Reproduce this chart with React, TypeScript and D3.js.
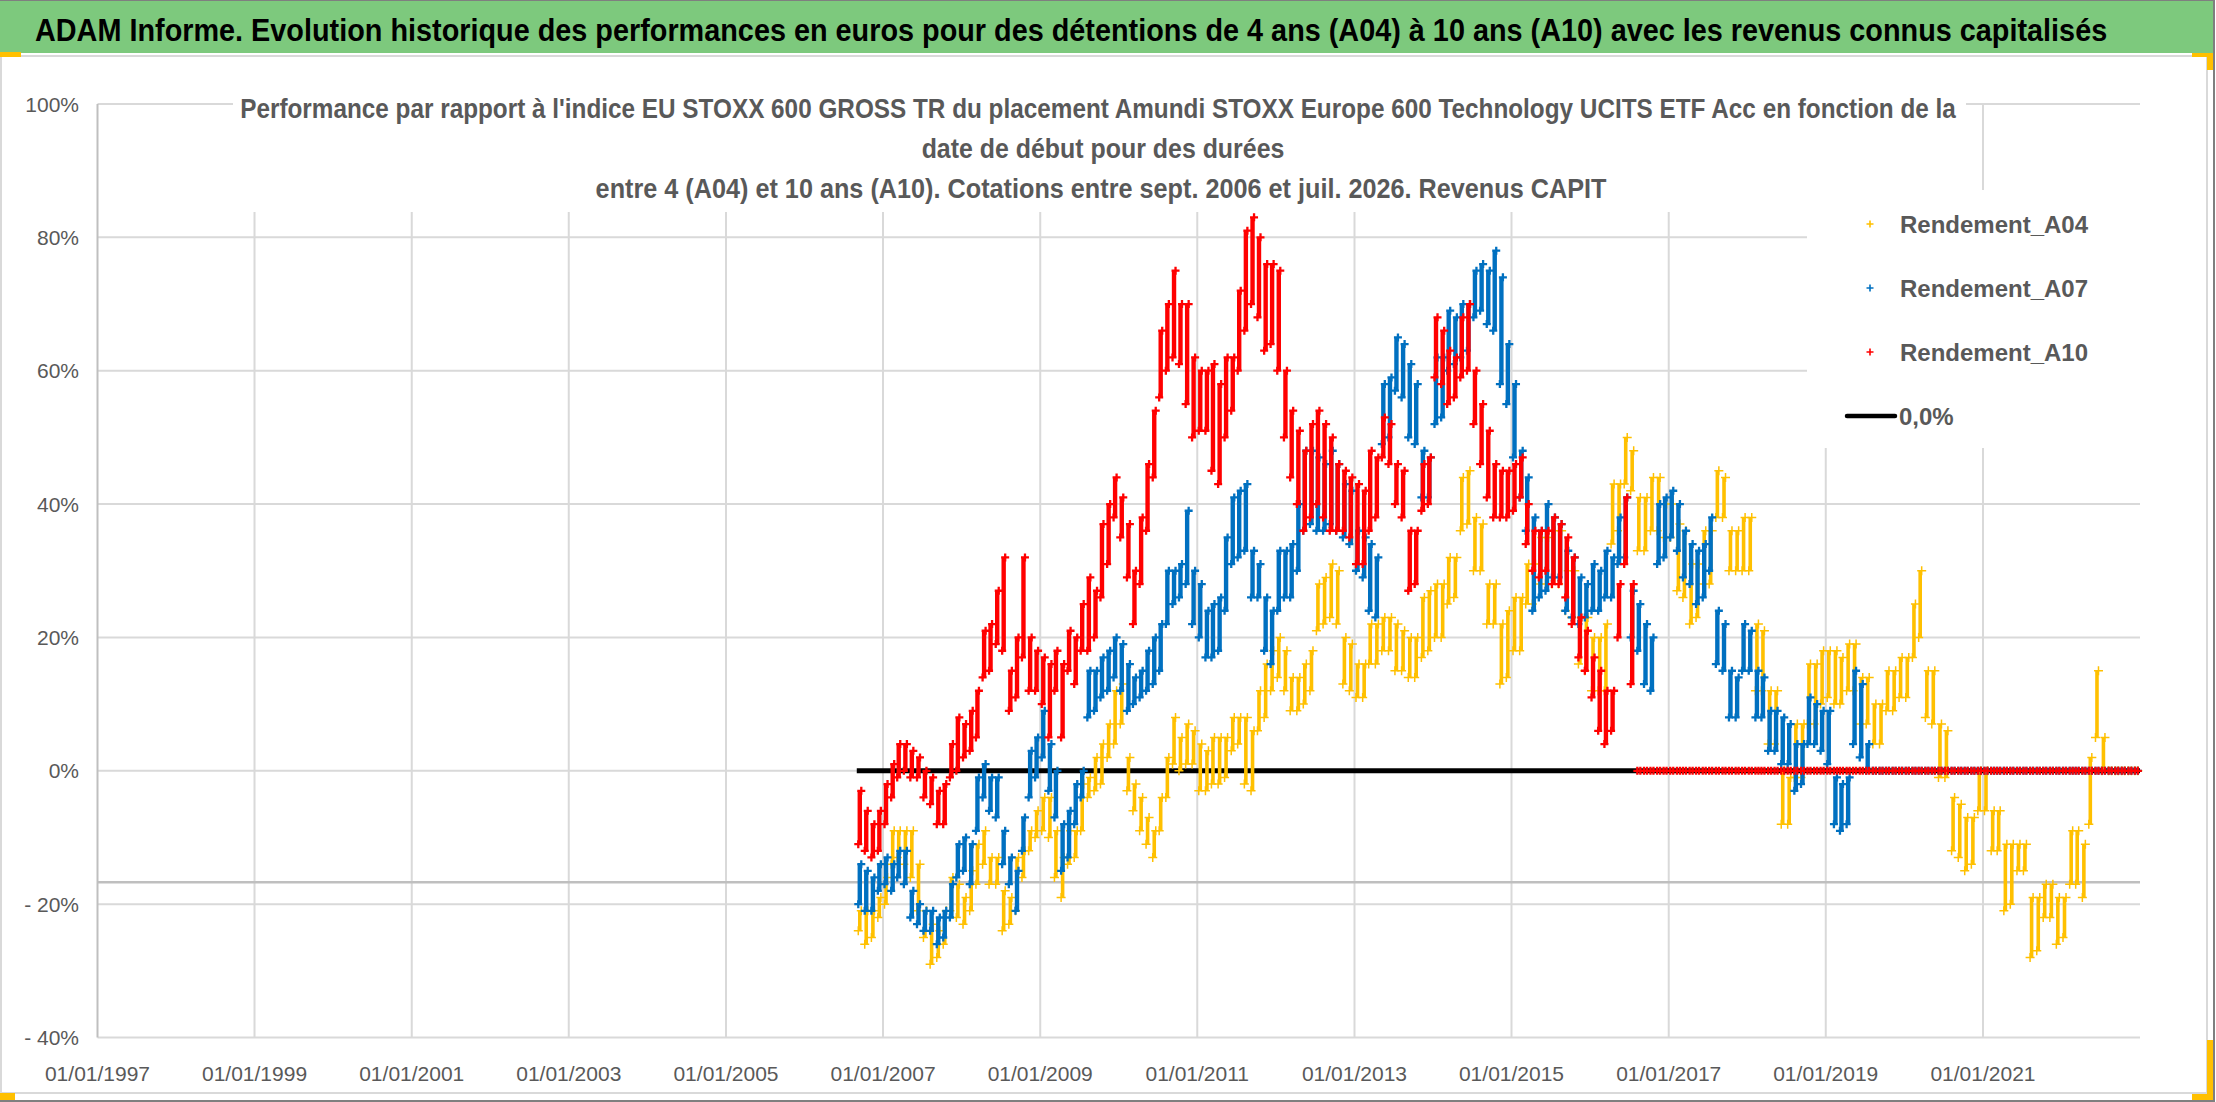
import React, { useLayoutEffect, useRef, useState } from "react";
import * as d3 from "d3";

const TITLE =
  "ADAM Informe. Evolution historique des performances en euros pour des détentions de 4 ans (A04) à 10 ans (A10) avec les revenus connus capitalisés";
const SUBTITLE_LINES = [
  "Performance par rapport à l'indice EU STOXX 600 GROSS TR  du placement Amundi STOXX Europe 600 Technology UCITS ETF Acc en fonction de la",
  "date de début pour des durées",
  "entre 4 (A04) et 10 ans (A10). Cotations entre sept. 2006 et juil. 2026. Revenus CAPIT",
];
const X_TICK_YEARS = [1997, 1999, 2001, 2003, 2005, 2007, 2009, 2011, 2013, 2015, 2017, 2019, 2021];
const Y_TICKS = [-0.4, -0.2, 0, 0.2, 0.4, 0.6, 0.8, 1.0];
const SERIES_NAMES = ["Rendement_A04", "Rendement_A07", "Rendement_A10"];
const ZERO_LABEL = "0,0%";
const AXIS_CROSS_PCT = -16.7;
// first start month of the series: sept. 2006 (monthly low / high, in %)
const FIRST_YEAR = 2006;
const FIRST_MONTH = 8;

const A04: [number, number][] = [
  [-24, -21], [-26, -21], [-25, -21], [-22, -19], [-20, -16], [-14, -9], [-13, -9], [-14, -9], [-16, -9], [-21, -14],
  [-25, -21], [-29, -23], [-28, -24], [-26, -21], [-21, -16], [-22, -17], [-23, -19], [-21, -15], [-17, -11], [-14, -9],
  [-17, -13], [-17, -13], [-24, -18], [-23, -19], [-21, -13], [-16, -12], [-12, -9], [-10, -6], [-9, -4], [-10, -4],
  [-16, -9], [-19, -13], [-14, -9], [-13, -9], [-9, -2], [-4, -1], [-3, 2], [-2, 4], [2, 7], [4, 12],
  [7, 13], [-3, 2], [-6, -2], [-9, -4], [-11, -7], [-13, -9], [-9, -4], [-4, 2], [1, 8], [0, 5],
  [1, 7], [1, 6], [-3, 4], [-3, 3], [-2, 5], [-2, 5], [-1, 5], [3, 8], [4, 8], [-2, 8],
  [-3, 6], [6, 12], [8, 16], [12, 18], [14, 20], [12, 18], [9, 14], [9, 14], [10, 16], [12, 18],
  [21, 28], [22, 29], [23, 31], [22, 30], [13, 20], [12, 19], [11, 16], [11, 16], [16, 22], [16, 22],
  [18, 23], [18, 23], [15, 22], [15, 21], [14, 20], [14, 20], [17, 26], [18, 27], [20, 28], [20, 28],
  [25, 32], [26, 32], [36, 44], [37, 45], [30, 38], [30, 37], [22, 28], [22, 28], [13, 22], [14, 24],
  [18, 26], [18, 26], [25, 31], [25, 31], [28, 35], [28, 35], [28, 36], [28, 36], [24, 30], [23, 30],
  [16, 23], [15, 23], [12, 20], [12, 20], [12, 22], [34, 43], [36, 43], [43, 50], [42, 48], [33, 41],
  [33, 41], [36, 44], [36, 44], [35, 40], [35, 40], [27, 37], [26, 36], [22, 31], [23, 31], [28, 36],
  [28, 36], [38, 45], [38, 44], [30, 36], [30, 36], [30, 38], [30, 38], [12, 22], [12, 21], [4, 12],
  [4, 12], [-8, 0], [-8, -1], [-1, 7], [-1, 7], [7, 16], [7, 16], [10, 18], [11, 18], [10, 18],
  [10, 17], [12, 19], [12, 19], [7, 14], [7, 14], [4, 10], [4, 10], [9, 15], [9, 15], [11, 17],
  [11, 17], [17, 25], [20, 30], [8, 15], [7, 15], [-1, 7], [-1, 6], [-12, -4], [-13, -5], [-15, -7],
  [-14, -7], [-6, 0], [-6, 0], [-12, -6], [-12, -6], [-21, -11], [-20, -11], [-15, -11], [-15, -11], [-28, -19],
  [-27, -19], [-22, -17], [-22, -17], [-26, -19], [-25, -19], [-17, -9], [-17, -9], [-19, -11], [-8, 2], [5, 15],
  [0, 5], [0, 0], [0, 0], [0, 0], [0, 0], [0, 0],
];

const A07: [number, number][] = [
  [-20, -14], [-21, -15], [-21, -16], [-18, -14], [-17, -13], [-18, -14], [-16, -12], [-17, -12], [-22, -18], [-23, -20],
  [-24, -21], [-24, -21], [-26, -22], [-25, -21], [-22, -17], [-16, -11], [-15, -10], [-17, -11], [-9, -1], [-4, 1],
  [-6, -1], [-7, -1], [-14, -9], [-17, -13], [-21, -15], [-12, -7], [-4, 3], [-1, 5], [2, 9], [-3, 4],
  [-7, 0], [-15, -8], [-13, -6], [-8, -2], [-4, 0], [8, 15], [9, 15], [11, 17], [12, 18], [14, 20],
  [12, 19], [9, 16], [10, 14], [11, 15], [12, 18], [13, 20], [15, 22], [22, 30], [25, 30], [26, 31],
  [28, 39], [22, 30], [20, 28], [17, 24], [17, 25], [18, 26], [24, 35], [31, 41], [32, 42], [33, 43],
  [26, 33], [26, 31], [18, 26], [16, 24], [24, 33], [26, 33], [26, 34], [30, 40], [36, 48], [37, 48],
  [36, 47], [36, 46], [37, 48], [36, 46], [35, 43], [34, 42], [30, 36], [29, 35], [24, 34], [23, 32],
  [49, 58], [50, 59], [57, 65], [56, 64], [50, 61], [49, 58], [41, 48], [41, 47], [52, 62], [53, 62],
  [60, 69], [61, 68], [62, 70], [63, 70], [68, 75], [69, 76], [67, 75], [66, 78], [58, 74], [55, 64],
  [47, 58], [41, 48], [36, 44], [24, 38], [26, 36], [27, 40], [29, 38], [29, 37], [24, 33], [23, 32],
  [22, 29], [23, 28], [24, 31], [24, 30], [26, 33], [26, 32], [31, 38], [32, 41], [20, 27], [18, 25],
  [13, 22], [12, 20], [31, 40], [32, 41], [35, 42], [33, 40], [29, 36], [28, 34], [25, 33], [26, 34],
  [30, 38], [16, 24], [15, 22], [8, 15], [8, 14], [15, 22], [15, 21], [8, 15], [8, 14], [3, 9],
  [3, 9], [1, 8], [1, 7], [-3, 4], [-2, 4], [4, 11], [4, 10], [3, 9], [1, 9], [-8, -1],
  [-9, -2], [-8, -1], [4, 15], [2, 13], [0, 4], [0, 0], [0, 0], [0, 0], [0, 0], [0, 0],
  [0, 0], [0, 0], [0, 0], [0, 0], [0, 0], [0, 0], [0, 0], [0, 0], [0, 0], [0, 0],
  [0, 0], [0, 0], [0, 0], [0, 0], [0, 0], [0, 0], [0, 0], [0, 0], [0, 0], [0, 0],
  [0, 0], [0, 0], [0, 0], [0, 0], [0, 0], [0, 0], [0, 0], [0, 0], [0, 0], [0, 0],
  [0, 0], [0, 0], [0, 0], [0, 0], [0, 0], [0, 0],
];

const A10: [number, number][] = [
  [-11, -3], [-12, -6], [-13, -8], [-12, -6], [-8, -2], [-4, 1], [-1, 4], [0, 4], [-1, 3], [-1, 2],
  [-4, 0], [-5, -1], [-8, -3], [-8, -2], [-1, 4], [0, 8], [2, 7], [3, 9], [5, 12], [14, 21],
  [15, 22], [19, 27], [18, 32], [9, 15], [11, 20], [17, 32], [12, 20], [12, 18], [10, 17], [5, 16],
  [12, 18], [5, 16], [15, 21], [13, 20], [18, 25], [18, 29], [20, 27], [26, 37], [31, 40], [38, 44],
  [35, 41], [29, 37], [22, 30], [28, 38], [36, 46], [44, 54], [56, 66], [60, 70], [62, 75], [61, 70],
  [55, 70], [50, 62], [51, 60], [51, 60], [45, 61], [43, 58], [50, 62], [54, 62], [60, 72], [66, 81],
  [70, 83], [68, 80], [63, 76], [64, 76], [60, 75], [50, 60], [44, 54], [40, 51], [36, 48], [38, 52],
  [40, 54], [38, 52], [36, 50], [36, 46], [36, 45], [35, 44], [31, 43], [31, 42], [36, 48], [38, 47],
  [47, 53], [46, 52], [40, 46], [38, 45], [27, 36], [28, 36], [39, 46], [40, 47], [59, 68], [58, 66],
  [55, 63], [56, 62], [59, 68], [60, 70], [52, 60], [46, 55], [41, 51], [38, 46], [38, 45], [38, 45],
  [39, 46], [41, 47], [34, 40], [30, 36], [29, 36], [30, 36], [28, 38], [28, 37], [26, 35], [22, 32],
  [17, 23], [15, 21], [11, 17], [6, 15], [4, 12], [6, 12], [20, 28], [31, 41], [13, 28], [0, 0],
  [0, 0], [0, 0], [0, 0], [0, 0], [0, 0], [0, 0], [0, 0], [0, 0], [0, 0], [0, 0],
  [0, 0], [0, 0], [0, 0], [0, 0], [0, 0], [0, 0], [0, 0], [0, 0], [0, 0], [0, 0],
  [0, 0], [0, 0], [0, 0], [0, 0], [0, 0], [0, 0], [0, 0], [0, 0], [0, 0], [0, 0],
  [0, 0], [0, 0], [0, 0], [0, 0], [0, 0], [0, 0], [0, 0], [0, 0], [0, 0], [0, 0],
  [0, 0], [0, 0], [0, 0], [0, 0], [0, 0], [0, 0], [0, 0], [0, 0], [0, 0], [0, 0],
  [0, 0], [0, 0], [0, 0], [0, 0], [0, 0], [0, 0], [0, 0], [0, 0], [0, 0], [0, 0],
  [0, 0], [0, 0], [0, 0], [0, 0], [0, 0], [0, 0], [0, 0], [0, 0], [0, 0], [0, 0],
  [0, 0], [0, 0], [0, 0], [0, 0], [0, 0], [0, 0],
];

const SERIES = [
  { name: SERIES_NAMES[0], data: A04, color: "#FFC000", size: 4.5, width: 1.5, band: 3.6 },
  { name: SERIES_NAMES[1], data: A07, color: "#0070C0", size: 4, width: 2.3, band: 4.4 },
  { name: SERIES_NAMES[2], data: A10, color: "#FF0000", size: 4, width: 2.3, band: 4.4 },
];

const W = 2216;
const H = 1102;
const FONT = "'Liberation Sans', Arial, sans-serif";
const GREY_TEXT = "#595959";

const x = d3
  .scaleTime()
  .domain([new Date(1997, 0, 1), new Date(2023, 0, 1)])
  .range([97.5, 2140]);
const y = d3.scaleLinear().domain([-0.4, 1.0]).range([1037.5, 104]);
const fmtDate = d3.timeFormat("%d/%m/%Y");
const fmtY = (v: number) => {
  const p = Math.round(v * 100);
  return p < 0 ? `- ${-p}%` : `${p}%`;
};
const plus = (s: number) => `M${-s},0H${s}M0,${-s}V${s}`;
const monthDate = (m: number, day: number) => new Date(FIRST_YEAR, FIRST_MONTH + m, day);

type FitProps = {
  x: number;
  y: number;
  width: number;
  anchor: "start" | "middle" | "end";
  size: number;
  weight?: string;
  color: string;
  children: string;
};

function FitText({ x: tx, y: ty, width, anchor, size, weight, color, children }: FitProps) {
  const ref = useRef<SVGTextElement>(null);
  const [sx, setSx] = useState(1);
  useLayoutEffect(() => {
    const el = ref.current;
    if (!el) return;
    const w = el.getComputedTextLength();
    if (w > 0) setSx(width / w);
  }, [width, children]);
  return (
    <text
      ref={ref}
      transform={`translate(${tx},${ty}) scale(${sx},1)`}
      textAnchor={anchor}
      fontFamily={FONT}
      fontWeight={weight || "normal"}
      fontSize={size}
      fill={color}
    >
      {children}
    </text>
  );
}

export default function App() {
  const [x0, x1] = x.range();
  const [yb, yt] = y.range();
  const zeroStart = monthDate(0, 1);
  const zeroEnd = x.domain()[1];
  return (
    <div style={{ position: "fixed", left: 0, top: 0, width: W, height: H, background: "#fff" }}>
      <svg width={W} height={H} style={{ display: "block" }}>
        <rect x={0} y={0} width={W} height={H} fill="#fff" />
        {/* header band */}
        <rect x={0} y={0} width={2214} height={53} fill="#7DC97D" />
        <line x1={0} y1={0.5} x2={2214} y2={0.5} stroke="#7f7f7f" strokeWidth={1} />
        <FitText x={35} y={41} width={2073} anchor="start" size={31} weight="bold" color="#000">
          {TITLE}
        </FitText>
        {/* chart area frame */}
        <rect x={1} y={56} width={2206} height={1037} fill="#fff" stroke="#D9D9D9" strokeWidth={2} />
        <line x1={2214} y1={0} x2={2214} y2={H} stroke="#7f7f7f" strokeWidth={2} />
        <line x1={0} y1={1101} x2={2214} y2={1101} stroke="#7f7f7f" strokeWidth={2} />

        {/* gridlines */}
        {Y_TICKS.map((t) => (
          <line key={"gy" + t} x1={x0} x2={x1} y1={y(t)} y2={y(t)} stroke="#D9D9D9" strokeWidth={2} />
        ))}
        {X_TICK_YEARS.slice(1).map((yr) => {
          const xx = x(new Date(yr, 0, 1));
          return <line key={"gx" + yr} x1={xx} x2={xx} y1={yt} y2={yb} stroke="#D9D9D9" strokeWidth={2} />;
        })}
        {/* axis lines */}
        <line x1={x0} x2={x0} y1={yt} y2={yb} stroke="#BFBFBF" strokeWidth={2} />
        <line
          x1={x0}
          x2={x1}
          y1={y(AXIS_CROSS_PCT / 100)}
          y2={y(AXIS_CROSS_PCT / 100)}
          stroke="#BFBFBF"
          strokeWidth={2.5}
        />
        {/* tick labels */}
        {Y_TICKS.map((t) => (
          <text
            key={"ty" + t}
            x={79}
            y={y(t) + 7.5}
            textAnchor="end"
            fontFamily={FONT}
            fontSize={21}
            fill={GREY_TEXT}
          >
            {fmtY(t)}
          </text>
        ))}
        {X_TICK_YEARS.map((yr) => {
          const d = new Date(yr, 0, 1);
          return (
            <text
              key={"tx" + yr}
              x={x(d)}
              y={1081}
              textAnchor="middle"
              fontFamily={FONT}
              fontSize={21}
              fill={GREY_TEXT}
            >
              {fmtDate(d)}
            </text>
          );
        })}

        {/* 0,0% line */}
        <line x1={x(zeroStart)} x2={x(zeroEnd)} y1={y(0)} y2={y(0)} stroke="#000" strokeWidth={5} />

        {/* series */}
        {SERIES.map((s) => (
          <g key={s.name}>
            {s.data.map(([lo, hi], m) => {
              const xm = x(monthDate(m, 15));
              return (
                <line
                  key={"b" + m}
                  x1={xm}
                  x2={xm}
                  y1={y(lo / 100)}
                  y2={y(hi / 100)}
                  stroke={s.color}
                  strokeWidth={s.band}
                />
              );
            })}
            {s.data.map(([lo, hi], m) => (
              <g key={"p" + m}>
                <path
                  d={plus(s.size)}
                  transform={`translate(${x(monthDate(m, 8))},${y(lo / 100)})`}
                  stroke={s.color}
                  strokeWidth={s.width}
                  fill="none"
                />
                <path
                  d={plus(s.size)}
                  transform={`translate(${x(monthDate(m, 22))},${y(hi / 100)})`}
                  stroke={s.color}
                  strokeWidth={s.width}
                  fill="none"
                />
              </g>
            ))}
          </g>
        ))}

        {/* subtitle box */}
        <rect x={233} y={80} width={1733} height={132} fill="#fff" />
        <FitText x={1098} y={118} width={1716} anchor="middle" size={27} weight="bold" color={GREY_TEXT}>
          {SUBTITLE_LINES[0]}
        </FitText>
        <FitText x={1103} y={158} width={363} anchor="middle" size={27} weight="bold" color={GREY_TEXT}>
          {SUBTITLE_LINES[1]}
        </FitText>
        <FitText x={1101} y={198} width={1011} anchor="middle" size={27} weight="bold" color={GREY_TEXT}>
          {SUBTITLE_LINES[2]}
        </FitText>

        {/* legend */}
        <rect x={1807} y={190} width={333} height={258} fill="#fff" />
        {SERIES.map((s, i) => {
          const cy = 224 + i * 64;
          return (
            <g key={"lg" + s.name}>
              <path
                d={plus(3.5)}
                transform={`translate(1870,${cy})`}
                stroke={s.color}
                strokeWidth={1.6}
                fill="none"
              />
              <text x={1900} y={cy + 9} fontFamily={FONT} fontWeight="bold" fontSize={24} fill={GREY_TEXT}>
                {s.name}
              </text>
            </g>
          );
        })}
        <line x1={1847} x2={1895} y1={416} y2={416} stroke="#000" strokeWidth={4.5} strokeLinecap="round" />
        <text x={1899} y={425} fontFamily={FONT} fontWeight="bold" fontSize={24} fill={GREY_TEXT}>
          {ZERO_LABEL}
        </text>

        {/* selection handles */}
        <rect x={0} y={52} width={21} height={5} fill="#FFC000" />
        <rect x={2192} y={53} width={21} height={4} fill="#FFC000" />
        <rect x={2207} y={53} width={6} height={17} fill="#FFC000" />
        <rect x={2207} y={1040} width={6} height={60} fill="#FFC000" />
        <rect x={2192} y={1094} width={21} height={6} fill="#FFC000" />
        <rect x={0} y={1093} width={15} height={7} fill="#FFC000" />
      </svg>
    </div>
  );
}
